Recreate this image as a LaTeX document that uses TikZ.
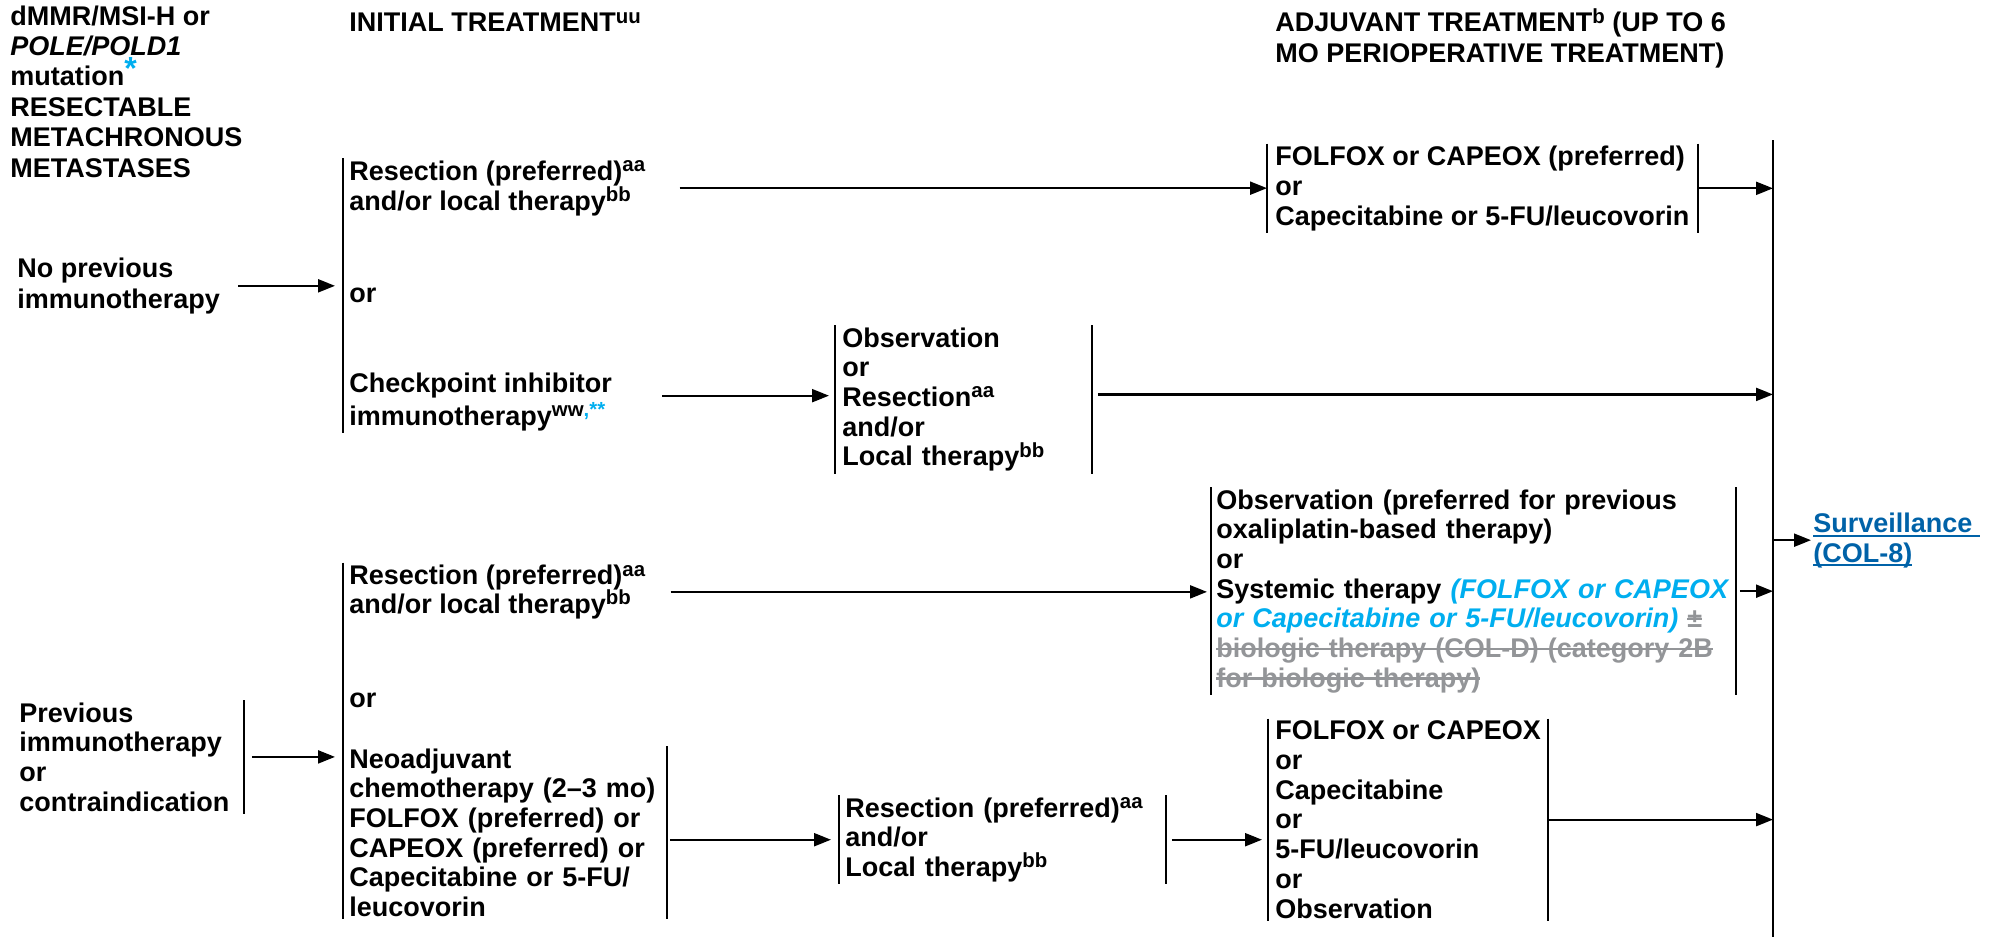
\documentclass[tikz,border=0pt]{standalone}
\usepackage{fontspec}
\setmainfont{Liberation Sans}
\usepackage{xcolor}
\usetikzlibrary{arrows.meta}
\definecolor{nccnCyan}{RGB}{0,174,239}
\definecolor{nccnGray}{RGB}{147,149,152}
\definecolor{nccnLink}{RGB}{0,98,168}
\newcommand{\fnote}[1]{\raisebox{4.3pt}{\fontsize{10.2pt}{10.2pt}\selectfont #1}}
\newsavebox{\markbox}
\newcommand{\strk}[1]{\leavevmode\sbox{\markbox}{#1}\rlap{\usebox{\markbox}}\rule[0.28em]{\wd\markbox}{0.08em}}
\newcommand{\ulink}[1]{\leavevmode\sbox{\markbox}{#1}\rlap{\usebox{\markbox}}\rule[-0.16em]{\wd\markbox}{0.07em}}

\begin{document}
\begin{tikzpicture}[
  x=0.5pt, y=-0.5pt,
  txt/.style={inner xsep=3pt, inner ysep=1pt, align=left, anchor=base west,
             font=\fontsize{13.5pt}{14.85pt}\selectfont\bfseries},
  hdr/.style={txt, inner sep=0pt, font=\fontsize{13.5pt}{15.2pt}\selectfont\bfseries},
  brk/.style={line width=1pt},
  mainbar/.style={line width=1.4pt},
  arrow/.style={-{Triangle[length=8.5pt,width=6.5pt]}, line width=1.1pt}
]
\useasboundingbox (0,0) rectangle (2003,937);

% column headings (plain align: node sits on its last line)
\node[hdr] (title) at (10,177) {dMMR/MSI-H or\\ \textit{POLE/POLD1}\\
  mutation{\color{nccnCyan}\raisebox{3pt}{\fontsize{16pt}{16pt}\selectfont *}}\\ RESECTABLE\\ METACHRONOUS\\ METASTASES};
\node[hdr] (hinit) at (349,32) {INITIAL TREATMENT\fnote{uu}};
\node[hdr] (hadj) at (1275,62) {ADJUVANT TREATMENT\fnote{b} (UP TO 6\\MO PERIOPERATIVE TREATMENT)};

% no previous immunotherapy
\node[hdr] (nop) at (17,308) {No previous\\immunotherapy};
\node[txt] (res1) at (343,210) {Resection (preferred)\fnote{aa}\\and/or local therapy\fnote{bb}};
\node[txt] (or1) at (343,302) {or};
\node[txt] (chk) at (343,425) {Checkpoint inhibitor\\[1.5pt]immunotherapy\fnote{ww{\color{nccnCyan},**}}};
\node[txt, inner xsep=4pt] (fx1) at (1267,225) {FOLFOX or CAPEOX (preferred)\\or\\Capecitabine or 5-FU/leucovorin};
% text width: node sits on its first line
\node[txt, inner xsep=3.5pt, text width=121pt] (obs1) at (835,347) {Observation\\or\\Resection\fnote{aa}\\and/or\\Local therapy\fnote{bb}};

% previous immunotherapy or contraindication
\node[txt, inner xsep=0pt, text width=112pt] (prev) at (19,722) {Previous\\immunotherapy\\or\\contraindication};
\node[txt] (res2) at (343,613) {Resection (preferred)\fnote{aa}\\[-0.7pt]and/or local therapy\fnote{bb}};
\node[txt] (or2) at (343,707) {or};
\node[txt, text width=155.5pt] (neo) at (343,768) {Neoadjuvant\\chemotherapy (2–3 mo)\\FOLFOX (preferred) or\\CAPEOX (preferred) or\\Capecitabine or 5-FU/\\leucovorin};
\node[txt, inner xsep=2.5pt, text width=257pt] (obs2) at (1211,509) {Observation (preferred for previous\\
  oxaliplatin-based therapy)\\or\\
  Systemic therapy {\color{nccnCyan}\textit{(FOLFOX or CAPEOX}}\\
  {\color{nccnCyan}\textit{or Capecitabine or 5-FU/leucovorin)}} {\color{nccnGray}\strk{±}}\\
  {\color{nccnGray}\strk{biologic therapy (COL-D) (category 2B}}\\
  {\color{nccnGray}\strk{for biologic therapy)}}};
\node[txt, text width=157pt] (res3) at (839,817) {Resection (preferred)\fnote{aa}\\and/or\\Local therapy\fnote{bb}};
\node[txt, inner xsep=3.5pt] (fx3) at (1268,918) {FOLFOX or CAPEOX\\or\\Capecitabine\\or\\5-FU/leucovorin\\or\\Observation};
\node[txt, inner xsep=1pt, text=nccnLink] (surv) at (1811,562) {\ulink{Surveillance\ }\\\ulink{(COL-8)}};

\coordinate (vtop) at (1773,140);
\coordinate (vbot) at (1773,937);

% brackets
\draw[mainbar] (vtop) -- (vbot);
\draw[brk] (res1.north west) -- (chk.south west);
\draw[brk] (res2.north west) -- (neo.south west);
\draw[brk] (neo.north east) -- (neo.south east);
\draw[brk] (prev.north east) -- (prev.south east);
\foreach \n in {fx1,obs1,obs2,res3,fx3}
  \draw[brk] (\n.north west) -- (\n.south west) (\n.north east) -- (\n.south east);

% arrows
\draw[arrow, shorten <=9pt, shorten >=4pt] (nop.east) -- (nop.east -| res1.west);
\draw[arrow, shorten <=14pt] (res1.east) -- (res1.east -| fx1.west);
\draw[arrow] (fx1.east) -- (fx1.east -| vtop);
\draw[arrow, shorten <=22pt, shorten >=3pt] ([yshift=3pt]chk.east) -- ([yshift=3pt]chk.east -| obs1.west);
\draw[arrow, shorten <=3pt] ([yshift=2.5pt]obs1.east) -- ([yshift=2.5pt]obs1.east -| vtop);
\draw[arrow, shorten <=4pt, shorten >=4pt] (prev.east) -- (prev.east -| res2.west);
\draw[arrow, shorten <=9.5pt, shorten >=2pt] (res2.east) -- (res2.east -| obs2.west);
\draw[arrow, shorten <=2pt] (obs2.east) -- (obs2.east -| vtop);
\draw[arrow] (surv.west -| vtop) -- (surv.west);
\draw[arrow, shorten <=1.5pt, shorten >=4pt] (res3.west -| neo.east) -- (res3.west);
\draw[arrow, shorten <=3pt, shorten >=3pt] (res3.east) -- (res3.east -| fx3.west);
\draw[arrow] (fx3.east) -- (fx3.east -| vtop);
\end{tikzpicture}
\end{document}
